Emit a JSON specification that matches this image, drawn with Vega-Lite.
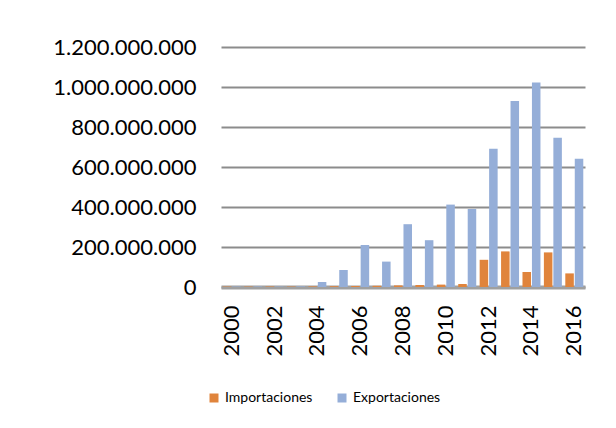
{
  "$schema": "https://vega.github.io/schema/vega-lite/v6.json",
  "autosize": "none",
  "padding": {"left": 221, "top": 47, "right": 31, "bottom": 141},
  "width": 364,
  "height": 240,
  "background": "white",
  "config": {
    "locale": {"number": {"decimal": ",", "thousands": ".", "grouping": [3], "currency": ["", " €"]}},
    "view": {"stroke": null},
    "font": "Lato"
  },
  "data": {
    "values": [
      {"year": "2000", "serie": "Importaciones", "value": 2000000},
      {"year": "2001", "serie": "Importaciones", "value": 2000000},
      {"year": "2002", "serie": "Importaciones", "value": 2000000},
      {"year": "2003", "serie": "Importaciones", "value": 2000000},
      {"year": "2004", "serie": "Importaciones", "value": 3000000},
      {"year": "2005", "serie": "Importaciones", "value": 4000000},
      {"year": "2006", "serie": "Importaciones", "value": 5000000},
      {"year": "2007", "serie": "Importaciones", "value": 6000000},
      {"year": "2008", "serie": "Importaciones", "value": 8000000},
      {"year": "2009", "serie": "Importaciones", "value": 10000000},
      {"year": "2010", "serie": "Importaciones", "value": 12000000},
      {"year": "2011", "serie": "Importaciones", "value": 15000000},
      {"year": "2012", "serie": "Importaciones", "value": 136000000},
      {"year": "2013", "serie": "Importaciones", "value": 178000000},
      {"year": "2014", "serie": "Importaciones", "value": 75000000},
      {"year": "2015", "serie": "Importaciones", "value": 173000000},
      {"year": "2016", "serie": "Importaciones", "value": 68000000},
      {"year": "2000", "serie": "Exportaciones", "value": 2000000},
      {"year": "2001", "serie": "Exportaciones", "value": 2000000},
      {"year": "2002", "serie": "Exportaciones", "value": 2000000},
      {"year": "2003", "serie": "Exportaciones", "value": 3000000},
      {"year": "2004", "serie": "Exportaciones", "value": 25000000},
      {"year": "2005", "serie": "Exportaciones", "value": 85000000},
      {"year": "2006", "serie": "Exportaciones", "value": 210000000},
      {"year": "2007", "serie": "Exportaciones", "value": 127000000},
      {"year": "2008", "serie": "Exportaciones", "value": 314000000},
      {"year": "2009", "serie": "Exportaciones", "value": 234000000},
      {"year": "2010", "serie": "Exportaciones", "value": 412000000},
      {"year": "2011", "serie": "Exportaciones", "value": 390000000},
      {"year": "2012", "serie": "Exportaciones", "value": 691000000},
      {"year": "2013", "serie": "Exportaciones", "value": 930000000},
      {"year": "2014", "serie": "Exportaciones", "value": 1022000000},
      {"year": "2015", "serie": "Exportaciones", "value": 746000000},
      {"year": "2016", "serie": "Exportaciones", "value": 641000000}
    ]
  },
  "mark": {"type": "bar", "stroke": null},
  "encoding": {
    "x": {
      "field": "year",
      "type": "ordinal",
      "scale": {"paddingInner": 0.16, "paddingOuter": 0.08},
      "axis": {
        "title": null,
        "values": ["2000", "2002", "2004", "2006", "2008", "2010", "2012", "2014", "2016"],
        "labelAngle": -90,
        "labelFontSize": 22,
        "labelColor": "#000000",
        "labelPadding": 18,
        "ticks": false,
        "domain": true,
        "domainColor": "#A0A0A0",
        "domainWidth": 4
      }
    },
    "xOffset": {
      "field": "serie",
      "type": "nominal",
      "sort": ["Importaciones", "Exportaciones"],
      "scale": {"paddingInner": 0.1}
    },
    "y": {
      "field": "value",
      "type": "quantitative",
      "scale": {"domain": [0, 1200000000]},
      "axis": {
        "title": null,
        "values": [0, 200000000, 400000000, 600000000, 800000000, 1000000000, 1200000000],
        "format": ",d",
        "labelFontSize": 22,
        "labelColor": "#000000",
        "labelPadding": 25,
        "ticks": false,
        "domain": false,
        "grid": true,
        "gridColor": "#8C8C8C",
        "gridWidth": 2
      }
    },
    "color": {
      "field": "serie",
      "type": "nominal",
      "sort": ["Importaciones", "Exportaciones"],
      "scale": {"domain": ["Importaciones", "Exportaciones"], "range": ["#E0843C", "#95AED8"]},
      "legend": {
        "title": null,
        "orient": "none",
        "direction": "horizontal",
        "legendX": -14,
        "legendY": 344,
        "symbolType": "square",
        "symbolSize": 81,
        "symbolStrokeWidth": 0,
        "labelFontSize": 14,
        "labelColor": "#000000",
        "labelOffset": 4,
        "columnPadding": 22
      }
    }
  }
}
